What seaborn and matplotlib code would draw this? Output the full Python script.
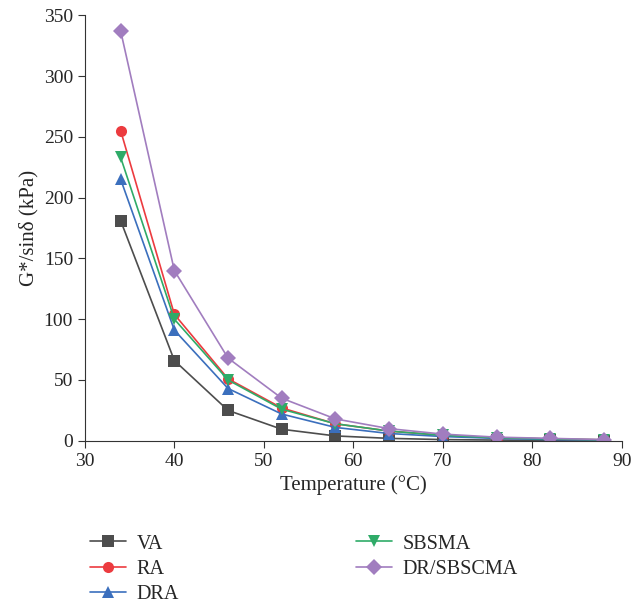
import numpy as np
import pandas as pd
import matplotlib
matplotlib.use("Agg")
import matplotlib.pyplot as plt
import seaborn as sns
from matplotlib.lines import Line2D

temperature = [34, 40, 46, 52, 58, 64, 70, 76, 82, 88]
va = [181, 66, 25, 9.5, 4, 2, 1, 0.6, 0.3, 0.2]
ra = [255, 104, 51, 27, 14, 8, 4.5, 2.5, 1.5, 0.8]
dra = [215, 91, 43, 22, 11, 6, 3.5, 2, 1, 0.6]
sbsma = [233, 100, 50, 26, 14, 8, 4.5, 2.5, 1.5, 0.8]
drsbscma = [337, 140, 68, 35, 18, 10, 5.5, 3, 2, 1]

names = ["VA", "RA", "DRA", "SBSMA", "DR/SBSCMA"]
series = [va, ra, dra, sbsma, drsbscma]
colors = ["#4d4d4d", "#ec3b3f", "#3b6fbd", "#2fab68", "#a17dbf"]
markers = ["s", "o", "^", "v", "D"]

rows = []
for n, s in zip(names, series):
    for t, v in zip(temperature, s):
        rows.append({"Temperature": t, "value": v, "series": n})
df = pd.DataFrame(rows)

sns.set_style("ticks")
plt.rcParams["font.family"] = ["Liberation Serif", "DejaVu Serif"]

fig = plt.figure(figsize=(6.43, 6.08), dpi=100)
ax = fig.add_axes([0.132, 0.275, 0.835, 0.70])

sns.lineplot(data=df, x="Temperature", y="value", hue="series", style="series",
             hue_order=names, style_order=names,
             palette=dict(zip(names, colors)), markers=dict(zip(names, markers)),
             dashes=False, markersize=8, linewidth=1.2, markeredgewidth=0,
             ax=ax, legend=False)

ax.set_xlim(30, 90)
ax.set_ylim(0, 350)
ax.set_xticks(range(30, 91, 10))
ax.set_yticks(range(0, 351, 50))
ax.tick_params(labelsize=14, direction="out", length=5, color="#333333")
ax.set_xlabel("Temperature (°C)", fontsize=15)
ax.set_ylabel("G*/sinδ (kPa)", fontsize=15)
for sp in ["top", "right"]:
    ax.spines[sp].set_visible(False)
for sp in ["left", "bottom"]:
    ax.spines[sp].set_color("#333333")

handles = [Line2D([0], [0], color=c, marker=m, markersize=8, lw=1.2, markeredgewidth=0)
           for c, m in zip(colors, markers)]
fig.legend(handles, names, loc="upper left", bbox_to_anchor=(0.14, 0.121), ncol=2,
           frameon=False, fontsize=14.5, columnspacing=8.8, handlelength=1.8,
           handletextpad=0.5, labelspacing=0.3, borderaxespad=0, borderpad=0)

fig.savefig("out.png", dpi=100)
